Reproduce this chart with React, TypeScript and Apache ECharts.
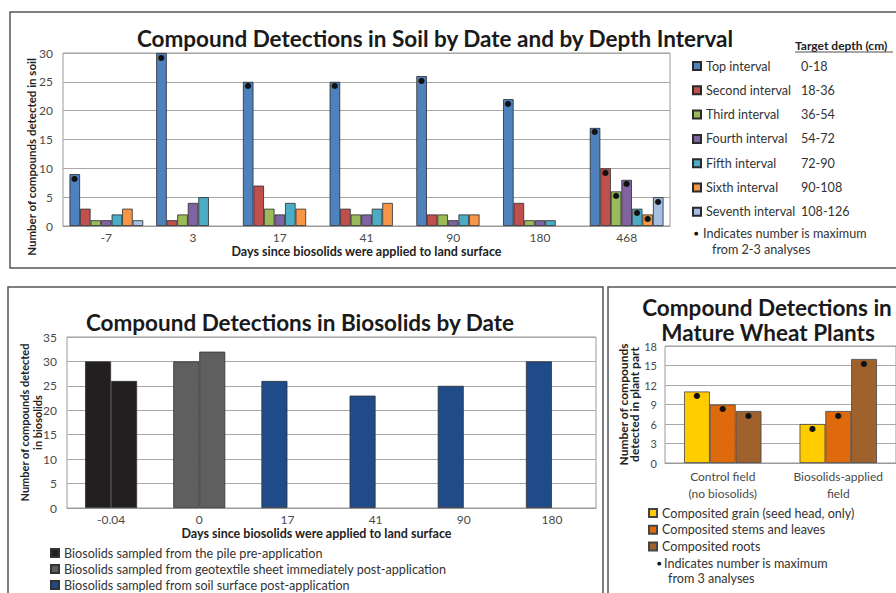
import React, { useEffect, useRef } from 'react';
import * as echarts from 'echarts';

// ---------- Soil chart data ----------
const soilCategories = ['-7', '3', '17', '41', '90', '180', '468'];
const soilIntervals = ['Top interval', 'Second interval', 'Third interval', 'Fourth interval', 'Fifth interval', 'Sixth interval', 'Seventh interval'];
const soilDepths = ['0-18', '18-36', '36-54', '54-72', '72-90', '90-108', '108-126'];
const soilTop = [9, 30, 25, 25, 26, 22, 17];
const soilSecond = [3, 1, 7, 3, 2, 4, 10];
const soilThird = [1, 2, 3, 2, 2, 1, 6];
const soilFourth = [1, 4, 2, 2, 1, 1, 8];
const soilFifth = [2, 5, 4, 3, 2, 1, 3];
const soilSixth = [3, null, 3, 4, 2, null, 2];
const soilSeventh = [1, null, null, null, null, null, 5];
const soilTopMax = [1, 1, 1, 1, 1, 1, 1];
const soilDeepMax = [0, 0, 0, 0, 0, 0, 1];
const soilTicks = [0, 30, 5];

// ---------- Biosolids chart data ----------
const bioCategories = ['-0.04', '0', '17', '41', '90', '180'];
const bioNames = [
  'Biosolids sampled from the pile pre-application',
  'Biosolids sampled from geotextile sheet immediately post-application',
  'Biosolids sampled from soil surface post-application',
];
const bioPileFirst = [30, null, null, null, null, null];
const bioPileSecond = [26, null, null, null, null, null];
const bioSheetFirst = [null, 30, null, null, null, null];
const bioSheetSecond = [null, 32, null, null, null, null];
const bioSoilSurface = [null, null, 26, 23, 25, 30];
const bioTicks = [0, 35, 5];

// ---------- Wheat chart data ----------
const wheatCategories = ['Control field\n(no biosolids)', 'Biosolids-applied\nfield'];
const wheatNames = ['Composited grain (seed head, only)', 'Composited stems and leaves', 'Composited roots'];
const wheatGrain = [11, 6];
const wheatStems = [9, 8];
const wheatRoots = [8, 16];
const wheatMax = [1, 1];
const wheatTicks = [0, 18, 3];

const FONT = 'Lato, "Open Sans", sans-serif';
const soilColors = ['#4F81BD', '#C0504D', '#9BBB59', '#8064A2', '#4BACC6', '#F79646', '#A7BEE3'];
const bioColors = ['#231F20', '#5F5F5F', '#1F4B88'];
const wheatColors = ['#FFCC00', '#DE6A0C', '#A0622D'];

const dotLabel = {
  show: false,
  position: 'insideTop',
  distance: 0,
  formatter: '●',
  fontSize: 8,
  color: '#111',
  fontFamily: 'DejaVu Sans',
};

function toData(vals: (number | null)[], flags?: number[]) {
  return vals.map((v, j) =>
    v == null ? '-' : flags ? { value: v, label: { show: !!flags[j] } } : v
  );
}

const axisLabelStyle = { color: '#4a4a4a', fontSize: 12, fontFamily: FONT };
const axisNameStyle = { color: '#222', fontSize: 12.5, fontWeight: 'bold', fontFamily: FONT };
const LEG = 12.6;

export default function App() {
  const ref = useRef<HTMLDivElement>(null);
  useEffect(() => {
    if (!ref.current) return;
    const chart = echarts.init(ref.current, null, { renderer: 'svg' });

    const soilValues = [soilTop, soilSecond, soilThird, soilFourth, soilFifth, soilSixth, soilSeventh];
    const soilSeries = soilValues.map((vals, i) => ({
      type: 'bar',
      name: soilIntervals[i],
      xAxisIndex: 0,
      yAxisIndex: 0,
      barGap: '0%',
      barCategoryGap: '15%',
      itemStyle: { color: soilColors[i], borderColor: '#2a2a2a', borderWidth: 0.8 },
      label: dotLabel,
      data: toData(vals, i === 0 ? soilTopMax : soilDeepMax),
    }));

    const bioSeriesDefs: [string, (number | null)[], string, string][] = [
      [bioNames[0], bioPileFirst, 'a', bioColors[0]],
      [bioNames[0], bioPileSecond, 'b', bioColors[0]],
      [bioNames[1], bioSheetFirst, 'a', bioColors[1]],
      [bioNames[1], bioSheetSecond, 'b', bioColors[1]],
      [bioNames[2], bioSoilSurface, 'a', bioColors[2]],
    ];
    const bioSeries = bioSeriesDefs.map(([name, vals, stack, color]) => ({
      type: 'bar',
      name,
      stack,
      xAxisIndex: 1,
      yAxisIndex: 1,
      barGap: '0%',
      barCategoryGap: '41%',
      itemStyle: { color, borderColor: '#333', borderWidth: 0.8 },
      data: toData(vals),
    }));

    const wheatValues = [wheatGrain, wheatStems, wheatRoots];
    const wheatSeries = wheatValues.map((vals, i) => ({
      type: 'bar',
      name: wheatNames[i],
      xAxisIndex: 2,
      yAxisIndex: 2,
      barGap: '0%',
      barCategoryGap: '33%',
      itemStyle: { color: wheatColors[i], borderColor: '#444', borderWidth: 0.8 },
      label: dotLabel,
      data: toData(vals, wheatMax),
    }));

    const gridCommon = { show: true, borderColor: '#9a9a9a', borderWidth: 1, containLabel: false };
    const yAxisCommon = {
      type: 'value',
      axisLine: { show: false },
      axisTick: { show: false },
      splitLine: { lineStyle: { color: '#a8a8a8', width: 1 } },
      axisLabel: { ...axisLabelStyle, margin: 10 },
      nameLocation: 'middle',
      nameRotate: 90,
      nameTextStyle: axisNameStyle,
    };
    const xAxisCommon = {
      type: 'category',
      axisLine: { lineStyle: { color: '#9a9a9a' } },
      axisTick: { show: false },
      axisLabel: { ...axisLabelStyle, margin: 5, interval: 0 },
      nameLocation: 'middle',
      nameTextStyle: axisNameStyle,
    };

    const legendText = { color: '#333', fontSize: LEG, fontFamily: FONT, lineHeight: 14 };
    const legendCommon = {
      orient: 'vertical',
      icon: 'rect',
      itemWidth: 8,
      itemHeight: 8,
      padding: 0,
      height: 200,
      selectedMode: false,
      textStyle: legendText,
    };

    chart.setOption({
      animation: false,
      backgroundColor: '#ffffff',
      textStyle: { fontFamily: FONT },
      grid: [
        { ...gridCommon, left: 63, top: 53, width: 607, height: 173 },
        { ...gridCommon, left: 67, top: 337, width: 529, height: 171 },
        { ...gridCommon, left: 665, top: 346, width: 238, height: 117 },
      ],
      xAxis: [
        { ...xAxisCommon, gridIndex: 0, data: soilCategories, name: 'Days since biosolids were applied to land surface', nameGap: 19 },
        { ...xAxisCommon, gridIndex: 1, data: bioCategories, name: 'Days since biosolids were applied to land surface', nameGap: 19, nameTextStyle: { ...axisNameStyle, padding: [0, 30, 0, 0] } },
        { ...xAxisCommon, gridIndex: 2, data: wheatCategories, axisLabel: { ...axisLabelStyle, margin: 5, interval: 0, lineHeight: 17 } },
      ],
      yAxis: [
        { ...yAxisCommon, gridIndex: 0, min: soilTicks[0], max: soilTicks[1], interval: soilTicks[2] },
        { ...yAxisCommon, gridIndex: 1, min: bioTicks[0], max: bioTicks[1], interval: bioTicks[2], name: 'Number of compounds detected\nin biosolids', nameGap: 23, nameMoveOverlap: false, nameTextStyle: { ...axisNameStyle, fontSize: 11, lineHeight: 13 } },
        { ...yAxisCommon, gridIndex: 2, min: wheatTicks[0], max: wheatTicks[1], interval: wheatTicks[2], name: 'Number of compounds\ndetected in plant part', nameGap: 25, axisLabel: { ...axisLabelStyle, fontSize: 11, margin: 8 }, nameTextStyle: { ...axisNameStyle, fontSize: 12, lineHeight: 11 } },
      ],
      legend: [
        {
          ...legendCommon,
          data: soilIntervals,
          left: 692,
          top: 59,
          itemGap: 10.3,
          formatter: (name: string) => `{n|${name}}{d|${soilDepths[soilIntervals.indexOf(name)]}}`,
          textStyle: { ...legendText, rich: { n: { ...legendText, width: 95 }, d: { ...legendText } } },
        },
        { ...legendCommon, data: bioNames, left: 50, top: 546, itemGap: 2 },
        { ...legendCommon, data: wheatNames, left: 648, top: 506, itemGap: 2.7 },
      ],
      graphic: [
        { type: 'rect', shape: { x: 10, y: 12, width: 900, height: 256 }, style: { fill: 'none', stroke: '#555', lineWidth: 1.5 }, silent: true },
        { type: 'rect', shape: { x: 8, y: 287, width: 595, height: 320 }, style: { fill: 'none', stroke: '#555', lineWidth: 1.5 }, silent: true },
        { type: 'rect', shape: { x: 608, y: 287, width: 300, height: 320 }, style: { fill: 'none', stroke: '#555', lineWidth: 1.5 }, silent: true },
        { type: 'text', x: 435, y: 38, style: { text: 'Compound Detections in Soil by Date and by Depth Interval', align: 'center', verticalAlign: 'middle', font: `bold 22.5px ${FONT}`, fill: '#1a1a1a' } },
        { type: 'text', x: 300, y: 322, style: { text: 'Compound Detections in Biosolids by Date', align: 'center', verticalAlign: 'middle', font: `bold 22.5px ${FONT}`, fill: '#1a1a1a' } },
        { type: 'text', x: 767, y: 307, style: { text: 'Compound Detections in', align: 'center', verticalAlign: 'middle', font: `bold 22.5px ${FONT}`, fill: '#1a1a1a' } },
        { type: 'text', x: 768, y: 332, style: { text: 'Mature Wheat Plants', align: 'center', verticalAlign: 'middle', font: `bold 22.5px ${FONT}`, fill: '#1a1a1a' } },
        { type: 'text', x: 31, y: 157, rotation: Math.PI / 2, style: { text: 'Number of compounds detected in soil', align: 'center', verticalAlign: 'middle', font: `bold 11.5px ${FONT}`, fill: '#222' } },
        { type: 'text', x: 795, y: 45, style: { text: 'Target depth (cm)', align: 'left', verticalAlign: 'middle', font: `bold 12px ${FONT}`, fill: '#222' } },
        { type: 'line', shape: { x1: 795, y1: 52, x2: 893, y2: 52 }, style: { stroke: '#222', lineWidth: 0.8 } },
        { type: 'text', x: 694, y: 233, style: { text: '●', align: 'left', verticalAlign: 'middle', font: `5px "DejaVu Sans"`, fill: '#111' } },
        { type: 'text', x: 703, y: 233, style: { text: 'Indicates number is maximum', align: 'left', verticalAlign: 'middle', font: `${LEG}px ${FONT}`, fill: '#333' } },
        { type: 'text', x: 712, y: 249, style: { text: 'from 2-3 analyses', align: 'left', verticalAlign: 'middle', font: `${LEG}px ${FONT}`, fill: '#333' } },
        { type: 'text', x: 657, y: 563, style: { text: '●', align: 'left', verticalAlign: 'middle', font: `5px "DejaVu Sans"`, fill: '#111' } },
        { type: 'text', x: 664, y: 563, style: { text: 'Indicates number is maximum', align: 'left', verticalAlign: 'middle', font: `${LEG}px ${FONT}`, fill: '#333' } },
        { type: 'text', x: 668, y: 578, style: { text: 'from 3 analyses', align: 'left', verticalAlign: 'middle', font: `${LEG}px ${FONT}`, fill: '#333' } },
      ],
      series: [...soilSeries, ...bioSeries, ...wheatSeries],
    });
    return () => chart.dispose();
  }, []);
  return <div ref={ref} style={{ position: 'fixed', left: 0, top: 0, width: 896, height: 593, background: '#fff' }} />;
}
